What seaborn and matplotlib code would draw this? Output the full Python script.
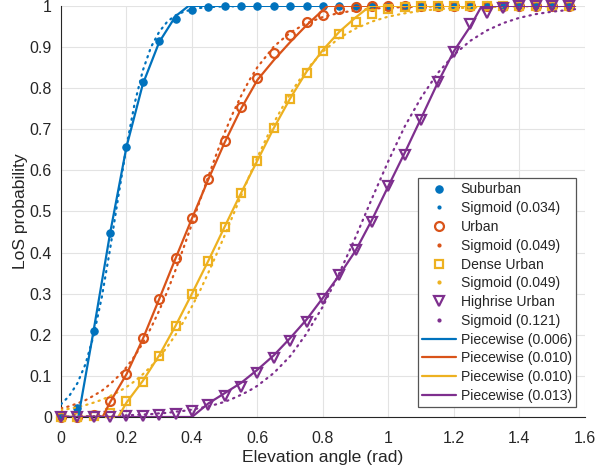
import numpy as np
import pandas as pd
import matplotlib
matplotlib.use("Agg")
import matplotlib.pyplot as plt
import seaborn as sns
from matplotlib.lines import Line2D
from matplotlib.ticker import FuncFormatter, MultipleLocator

# ---------------- data ----------------
angle = [0.00, 0.05, 0.10, 0.15, 0.20, 0.25, 0.30, 0.35, 0.40, 0.45, 0.50, 0.55,
         0.60, 0.65, 0.70, 0.75, 0.80, 0.85, 0.90, 0.95, 1.00, 1.05, 1.10, 1.15,
         1.20, 1.25, 1.30, 1.35, 1.40, 1.45, 1.50, 1.55]
suburban = [0.0, 0.021, 0.208, 0.447, 0.657, 0.816, 0.915, 0.969, 0.990, 0.998, 1, 1,
            1, 1, 1, 1, 1, 1, 1, 1, 1, 1, 1, 1, 1, 1, 1, 1, 1, 1, 1, 1]
urban = [0.0, 0.0, 0.006, 0.038, 0.104, 0.191, 0.287, 0.386, 0.483, 0.578, 0.671, 0.753,
         0.824, 0.885, 0.929, 0.960, 0.979, 0.992, 0.997, 0.999, 1, 1, 1, 1,
         1, 1, 1, 1, 1, 1, 1, 1]
dense_urban = [0.0, 0.0, 0.002, 0.010, 0.038, 0.086, 0.149, 0.222, 0.299, 0.379, 0.462, 0.544,
               0.622, 0.703, 0.773, 0.836, 0.890, 0.932, 0.960, 0.980, 0.993, 0.998, 1, 1,
               1, 1, 1, 1, 1, 1, 1, 1]
highrise = [0.0, 0.0, 0.0, 0.001, 0.002, 0.003, 0.005, 0.008, 0.014, 0.030, 0.050, 0.074,
            0.106, 0.143, 0.185, 0.232, 0.286, 0.345, 0.406, 0.475, 0.562, 0.637, 0.723, 0.814,
            0.887, 0.955, 0.983, 0.995, 1, 1, 1, 1]

sig_angle = [0.000, 0.025, 0.050, 0.075, 0.100, 0.125, 0.150, 0.175, 0.200, 0.225, 0.250,
             0.275, 0.300, 0.325, 0.350, 0.375, 0.400, 0.425, 0.450, 0.475, 0.500, 0.525,
             0.550, 0.575, 0.600, 0.65, 0.70, 0.75, 0.80, 0.85, 0.90, 0.95, 1.00, 1.05,
             1.10, 1.15, 1.20, 1.25, 1.30, 1.35, 1.40, 1.45, 1.50, 1.55, 1.57]
sig_suburban = [0.031, 0.051, 0.082, 0.129, 0.199, 0.293, 0.409, 0.536, 0.658, 0.763, 0.843,
                0.900, 0.937, 0.962, 0.977, 0.986, 0.991, 0.995, 0.997, 0.998, 0.999, 0.999,
                1.0, 1.0, 1.0, 1.0, 1.0, 1.0, 1.0, 1.0, 1.0, 1.0, 1.0, 1.0,
                1.0, 1.0, 1.0, 1.0, 1.0, 1.0, 1.0, 1.0, 1.0, 1.0, 1.0]
sig_urban = [0.021, 0.026, 0.033, 0.041, 0.052, 0.064, 0.080, 0.099, 0.121, 0.148, 0.180,
             0.217, 0.259, 0.306, 0.358, 0.413, 0.470, 0.528, 0.585, 0.640, 0.692, 0.739,
             0.781, 0.819, 0.851, 0.901, 0.935, 0.958, 0.973, 0.983, 0.989, 0.993, 0.996, 0.997,
             0.998, 0.999, 0.999, 0.999, 1.0, 1.0, 1.0, 1.0, 1.0, 1.0, 1.0]
sig_dense = [0.017, 0.020, 0.024, 0.029, 0.035, 0.042, 0.051, 0.061, 0.073, 0.087, 0.104,
             0.123, 0.145, 0.171, 0.200, 0.233, 0.269, 0.308, 0.351, 0.396, 0.442, 0.490,
             0.538, 0.586, 0.632, 0.716, 0.787, 0.845, 0.889, 0.922, 0.945, 0.962, 0.974, 0.982,
             0.988, 0.992, 0.994, 0.996, 0.997, 0.998, 0.999, 0.999, 0.999, 1.0, 1.0]
sig_highrise = [0.001, 0.001, 0.001, 0.002, 0.002, 0.002, 0.003, 0.003, 0.004, 0.005, 0.006,
                0.007, 0.009, 0.010, 0.013, 0.015, 0.018, 0.022, 0.026, 0.031, 0.037, 0.045,
                0.054, 0.064, 0.076, 0.107, 0.148, 0.203, 0.269, 0.350, 0.438, 0.532, 0.623, 0.707,
                0.777, 0.836, 0.881, 0.915, 0.940, 0.958, 0.971, 0.980, 0.986, 0.990, 0.992]

pw_suburban_x = [0.0, 0.053, 0.10, 0.15, 0.20, 0.25, 0.30, 0.35, 0.39, 1.57]
pw_suburban_y = [0.0, 0.0, 0.212, 0.447, 0.657, 0.810, 0.912, 0.975, 1.0, 1.0]
pw_urban_x = [0.0, 0.127, 0.15, 0.20, 0.25, 0.30, 0.35, 0.40, 0.45, 0.50, 0.55, 0.60,
              0.65, 0.70, 0.75, 0.80, 0.815, 1.57]
pw_urban_y = [0.0, 0.0, 0.036, 0.104, 0.190, 0.287, 0.386, 0.483, 0.578, 0.668, 0.750, 0.820,
              0.868, 0.912, 0.953, 0.990, 1.0, 1.0]
pw_dense_x = [0.0, 0.175, 0.20, 0.25, 0.30, 0.35, 0.40, 0.45, 0.50, 0.55, 0.60, 0.65,
              0.70, 0.75, 0.80, 0.85, 0.90, 0.945, 1.57]
pw_dense_y = [0.0, 0.0, 0.035, 0.088, 0.150, 0.222, 0.300, 0.380, 0.463, 0.545, 0.624, 0.703,
              0.775, 0.840, 0.893, 0.937, 0.972, 1.0, 1.0]
pw_highrise_x = [0.0, 0.40, 0.45, 0.50, 0.55, 0.60, 0.65, 0.70, 0.75, 0.80, 0.85, 0.90,
                 0.95, 1.00, 1.05, 1.10, 1.15, 1.20, 1.25, 1.285, 1.57]
pw_highrise_y = [0.0, 0.0, 0.033, 0.058, 0.083, 0.115, 0.150, 0.192, 0.237, 0.290, 0.345, 0.405,
                 0.480, 0.562, 0.643, 0.727, 0.812, 0.890, 0.950, 1.0, 1.0]

scenario_names = ["Suburban", "Urban", "Dense Urban", "Highrise Urban"]
sigmoid_labels = ["Sigmoid (0.034)", "Sigmoid (0.049)", "Sigmoid (0.049)", "Sigmoid (0.121)"]
piecewise_labels = ["Piecewise (0.006)", "Piecewise (0.010)", "Piecewise (0.010)", "Piecewise (0.013)"]
colors = ["#0072BD", "#D95319", "#EDB120", "#7E2F8E"]

# ---------------- style ----------------
sns.set_theme(style="white")
plt.rcParams["font.family"] = ["Liberation Sans", "DejaVu Sans"]
plt.rcParams["axes.unicode_minus"] = False

fig = plt.figure(figsize=(5.95, 4.75), dpi=100)
ax = fig.add_axes([0.1025, 0.1221, 0.8805, 0.8655])

data_series = [suburban, urban, dense_urban, highrise]
sig_series = [sig_suburban, sig_urban, sig_dense, sig_highrise]
pw_series = [(pw_suburban_x, pw_suburban_y), (pw_urban_x, pw_urban_y),
             (pw_dense_x, pw_dense_y), (pw_highrise_x, pw_highrise_y)]
marker_styles = [
    dict(marker="o", markersize=5.3, filled=True),
    dict(marker="o", markersize=6.4, filled=False),
    dict(marker="s", markersize=6.0, filled=False),
    dict(marker="v", markersize=7.2, filled=False),
]

handles, labels = [], []
z = 3
for i in range(4):
    c = colors[i]
    ms = marker_styles[i]
    df = pd.DataFrame({"angle": angle, "p": data_series[i]})
    n_before = len(ax.lines)
    sns.lineplot(data=df, x="angle", y="p", ax=ax, linestyle="none",
                 marker=ms["marker"], markersize=ms["markersize"],
                 markerfacecolor=(c if ms["filled"] else "none"),
                 markeredgecolor=c, markeredgewidth=(0.8 if ms["filled"] else 1.6),
                 color=c, zorder=z, clip_on=False, legend=False)
    h_data = ax.lines[n_before]
    z += 1
    dfs = pd.DataFrame({"angle": sig_angle, "p": sig_series[i]})
    sns.lineplot(data=dfs, x="angle", y="p", ax=ax, color=c, linewidth=1.6,
                 linestyle=(0, (0.6, 2.3)), dash_capstyle="round", zorder=z, legend=False)
    z += 1
    h_sig = Line2D([], [], linestyle="none", marker="o", markersize=2.0,
                   markerfacecolor=c, markeredgecolor=c)
    handles += [h_data, h_sig]
    labels += [scenario_names[i], sigmoid_labels[i]]

for i in range(4):
    c = colors[i]
    px, py = pw_series[i]
    dfp = pd.DataFrame({"angle": px, "p": py})
    n_before = len(ax.lines)
    sns.lineplot(data=dfp, x="angle", y="p", ax=ax, color=c, linewidth=1.6,
                 zorder=z, legend=False, sort=False)
    z += 1
    handles.append(ax.lines[n_before])
    labels.append(piecewise_labels[i])

# ---------------- axes ----------------
ax.set_xlim(0, 1.6)
ax.set_ylim(0, 1)
ax.xaxis.set_major_locator(MultipleLocator(0.2))
ax.yaxis.set_major_locator(MultipleLocator(0.1))
fmt = FuncFormatter(lambda v, p: ("%g" % round(v, 2)))
ax.xaxis.set_major_formatter(fmt)
ax.yaxis.set_major_formatter(fmt)
ax.grid(True, color="#e3e3e3", linewidth=0.8)
ax.set_axisbelow(True)
for s in ["top", "right"]:
    ax.spines[s].set_visible(False)
for s in ["left", "bottom"]:
    ax.spines[s].set_color("#262626")
    ax.spines[s].set_linewidth(0.8)
ax.tick_params(direction="in", length=4, width=0.8, colors="#262626", labelsize=11.5)
ax.tick_params(axis="x", pad=10)
ax.tick_params(axis="y", pad=6.5)
ax.set_xlabel("Elevation angle (rad)", fontsize=12.6, color="#262626", labelpad=3)
ax.set_ylabel("LoS probability", fontsize=12.6, color="#262626", labelpad=1.5)

leg = ax.legend(handles, labels, loc="lower right", bbox_to_anchor=(0.983, 0.024),
                fontsize=10.1, frameon=True, fancybox=False, framealpha=1,
                edgecolor="#555555", handlelength=2.45, handletextpad=0.3,
                labelspacing=0.34, borderpad=0.3, borderaxespad=0.0, numpoints=1)
leg.get_frame().set_linewidth(0.9)
for t in leg.get_texts():
    t.set_color("#262626")

fig.savefig("out.png", dpi=100)
